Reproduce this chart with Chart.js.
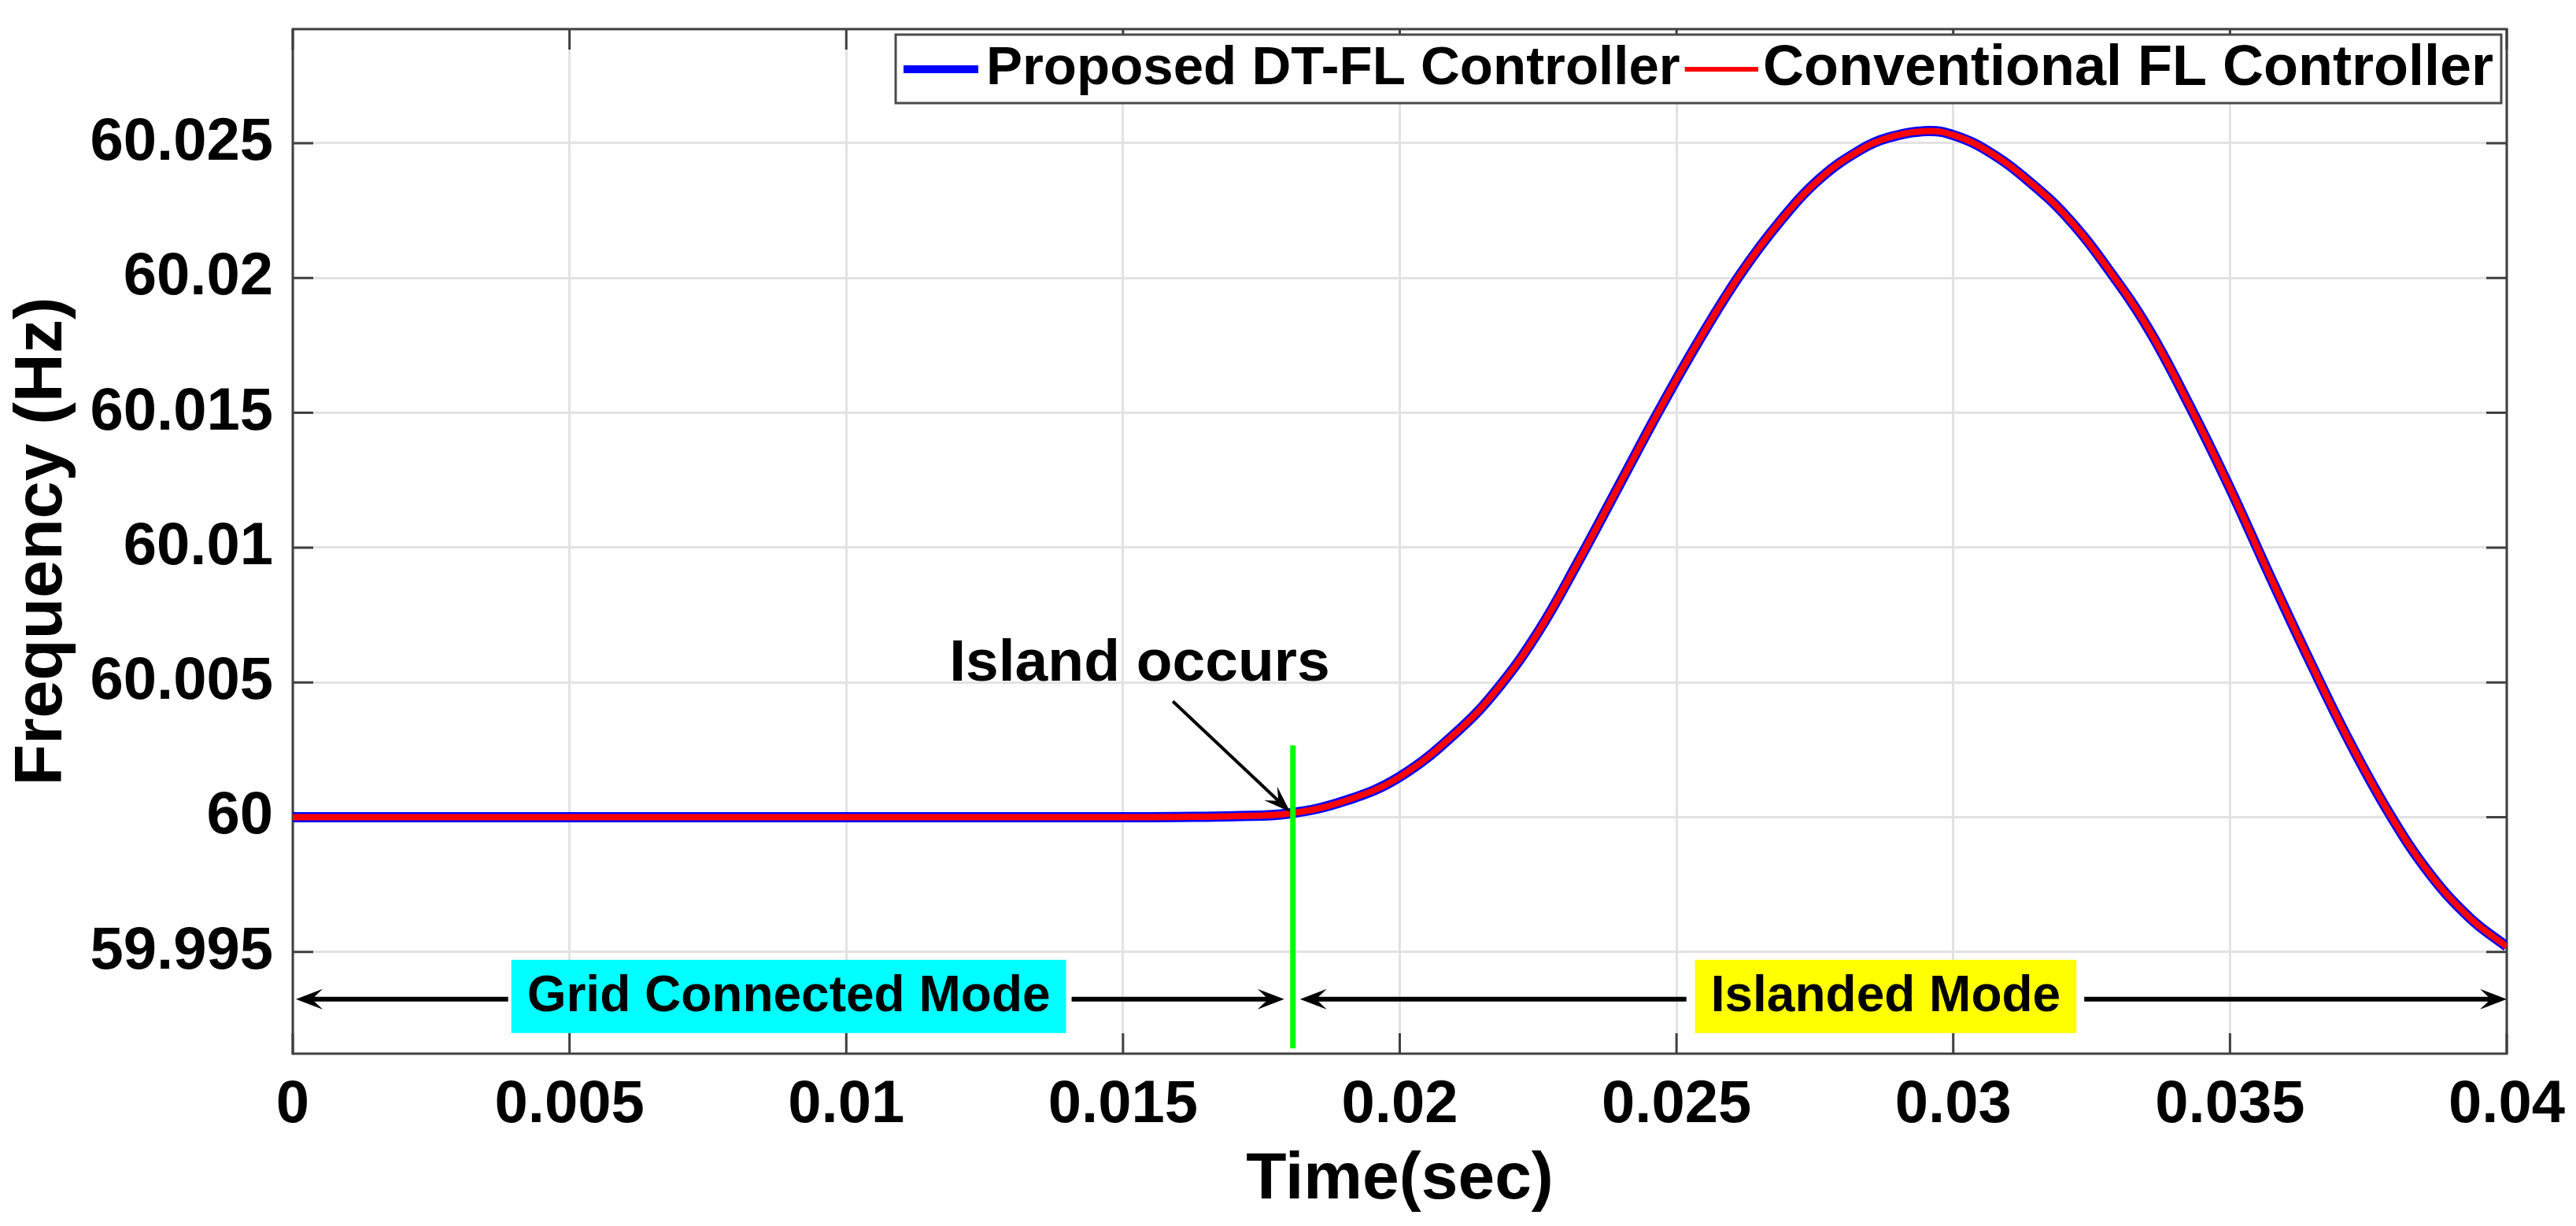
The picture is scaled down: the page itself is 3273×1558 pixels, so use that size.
<!DOCTYPE html>
<html>
<head>
<meta charset="utf-8">
<script src="https://cdn.jsdelivr.net/npm/chart.js@4.4.1/dist/chart.umd.min.js"></script>
<style>
  html, body { margin: 0; padding: 0; background: #fff; }
  canvas { display: block; }
</style>
</head>
<body>
<canvas id="freq" width="3273" height="1558"></canvas>
<script>
// values
const timeSec = [0, 0.005, 0.01, 0.015, 0.016, 0.017, 0.018, 0.019, 0.02, 0.02105, 0.02178, 0.02251,
    0.02323, 0.02396, 0.02469, 0.02541, 0.02614, 0.02687, 0.0276, 0.02832, 0.02882, 0.02954, 0.03,
    0.03063, 0.03136, 0.03208, 0.03281, 0.03353, 0.03426, 0.035, 0.03571, 0.03644, 0.03716, 0.03789,
    0.03861, 0.03934, 0.04];
const freqProposed = [60, 60, 60, 60, 60.00001, 60.00004, 60.00014, 60.0006, 60.0015, 60.0032, 60.0048, 60.0069,
    60.0095, 60.0123, 60.0151, 60.0177, 60.0201, 60.0221, 60.0237, 60.02475, 60.0252, 60.02545, 60.0253,
    60.0247, 60.0236, 60.0222, 60.0203, 60.0181, 60.0153, 60.0122, 60.009, 60.0058, 60.0028, 60.0001,
    59.9979, 59.99625, 59.9952];
const freqConventional = [60, 60, 60, 60, 60.00001, 60.00004, 60.00014, 60.0006, 60.0015, 60.0032, 60.0048, 60.0069,
    60.0095, 60.0123, 60.0151, 60.0177, 60.0201, 60.0221, 60.0237, 60.02475, 60.0252, 60.02545, 60.0253,
    60.0247, 60.0236, 60.0222, 60.0203, 60.0181, 60.0153, 60.0122, 60.009, 60.0058, 60.0028, 60.0001,
    59.9979, 59.99625, 59.9952];
const seriesNames = ['Proposed DT-FL Controller', 'Conventional FL Controller'];

const xTicks = [0, 0.005, 0.01, 0.015, 0.02, 0.025, 0.03, 0.035, 0.04];
const xTickLabels = ['0', '0.005', '0.01', '0.015', '0.02', '0.025', '0.03', '0.035', '0.04'];
const yTicks = [59.995, 60, 60.005, 60.01, 60.015, 60.02, 60.025];
const yTickLabels = ['59.995', '60', '60.005', '60.01', '60.015', '60.02', '60.025'];

// annotations (data units)
const islandTime = 0.01807;
const islandLine = [60.00266, 59.99143];
const islandText = 'Island occurs';
const islandTextAt = [0.0153, 60.00505];
const islandArrow = [[0.0159, 60.0043], [0.01802, 60.0002]];
const modeNames = ['Grid Connected Mode', 'Islanded Mode'];
const modeCenters = [0.00896, 0.02878];
const modeFreq = 59.99325;

const FONT = "'Liberation Sans', Arial, Helvetica, sans-serif";

function arrow(ctx, x1, y1, x2, y2, width, L, W) {
    const a = Math.atan2(y2 - y1, x2 - x1);
    ctx.save();
    ctx.strokeStyle = '#000';
    ctx.fillStyle = '#000';
    ctx.lineWidth = width;
    ctx.beginPath();
    ctx.moveTo(x1, y1);
    ctx.lineTo(x2 - Math.cos(a) * L * 0.6, y2 - Math.sin(a) * L * 0.6);
    ctx.stroke();
    ctx.translate(x2, y2);
    ctx.rotate(a);
    ctx.beginPath();
    ctx.moveTo(0, 0);
    ctx.lineTo(-L, W);
    ctx.lineTo(-L * 0.6, 0);
    ctx.lineTo(-L, -W);
    ctx.closePath();
    ctx.fill();
    ctx.restore();
}

// MATLAB-like box with inward ticks
const axesBox = {
    id: 'axesBox',
    beforeDatasetsDraw(chart) {
        const { ctx, chartArea: { left, top, right, bottom }, scales: { x, y } } = chart;
        const tl = 26;
        ctx.save();
        ctx.strokeStyle = '#404040';
        ctx.lineWidth = 3;
        ctx.beginPath();
        xTicks.forEach(v => {
            const px = x.getPixelForValue(v);
            ctx.moveTo(px, bottom); ctx.lineTo(px, bottom - tl);
            ctx.moveTo(px, top); ctx.lineTo(px, top + tl);
        });
        yTicks.forEach(v => {
            const py = y.getPixelForValue(v);
            ctx.moveTo(left, py); ctx.lineTo(left + tl, py);
            ctx.moveTo(right, py); ctx.lineTo(right - tl, py);
        });
        ctx.stroke();
        ctx.strokeRect(left, top, right - left, bottom - top);
        ctx.restore();
    }
};

const annotations = {
    id: 'annotations',
    afterDatasetsDraw(chart) {
        const { ctx, scales: { x, y } } = chart;
        ctx.save();

        // Island occurs
        ctx.font = `bold 75px ${FONT}`;
        ctx.fillStyle = '#000';
        ctx.textAlign = 'center';
        ctx.textBaseline = 'alphabetic';
        ctx.fillText(islandText, x.getPixelForValue(islandTextAt[0]), y.getPixelForValue(islandTextAt[1]));
        arrow(ctx,
            x.getPixelForValue(islandArrow[0][0]), y.getPixelForValue(islandArrow[0][1]),
            x.getPixelForValue(islandArrow[1][0]), y.getPixelForValue(islandArrow[1][1]),
            4, 34, 12);

        // mode labels
        const ym = y.getPixelForValue(modeFreq);
        const xi = x.getPixelForValue(islandTime);
        ctx.font = `bold 64px ${FONT}`;
        ctx.textBaseline = 'middle';
        const boxes = modeNames.map((name, i) => {
            const w = ctx.measureText(name).width + 40;
            const cx = x.getPixelForValue(modeCenters[i]);
            return { l: cx - w / 2, r: cx + w / 2, cx, name };
        });
        const fills = ['#00ffff', '#ffff00'];
        boxes.forEach((b, i) => {
            ctx.fillStyle = fills[i];
            ctx.fillRect(b.l, ym - 50, b.r - b.l, 93);
            ctx.fillStyle = '#000';
            ctx.fillText(b.name, b.cx, ym - 2);
        });
        arrow(ctx, boxes[0].l - 4, ym, x.getPixelForValue(0) + 4, ym, 6, 34, 13);
        arrow(ctx, boxes[0].r + 7, ym, xi - 11, ym, 6, 34, 13);
        arrow(ctx, boxes[1].l - 11, ym, xi + 9, ym, 6, 34, 13);
        arrow(ctx, boxes[1].r + 10, ym, x.getPixelForValue(0.04), ym, 6, 34, 13);
        ctx.restore();
    }
};

const boxLegend = {
    id: 'boxLegend',
    afterDraw(chart) {
        const { ctx } = chart;
        const l = 1138, r = 3178, t = 44, b = 131, cy = 88;
        ctx.save();
        ctx.fillStyle = '#fff';
        ctx.fillRect(l, t, r - l, b - t);
        ctx.strokeStyle = '#4a4a4a';
        ctx.lineWidth = 3;
        ctx.strokeRect(l, t, r - l, b - t);
        ctx.textBaseline = 'middle';
        ctx.fillStyle = '#000';
        // first entry
        ctx.strokeStyle = '#0000ff';
        ctx.lineWidth = 10;
        ctx.beginPath(); ctx.moveTo(1148, cy); ctx.lineTo(1243, cy); ctx.stroke();
        ctx.font = `bold 69px ${FONT}`;
        ctx.textAlign = 'left';
        ctx.fillText(seriesNames[0], 1253, cy);
        const end1 = 1253 + ctx.measureText(seriesNames[0]).width;
        // second entry
        ctx.font = `bold 72px ${FONT}`;
        ctx.textAlign = 'right';
        ctx.fillText(seriesNames[1], 3168, cy);
        const start2 = 3168 - ctx.measureText(seriesNames[1]).width;
        ctx.strokeStyle = '#ff0000';
        ctx.lineWidth = 6;
        ctx.beginPath(); ctx.moveTo(end1 + 6, cy); ctx.lineTo(start2 - 6, cy); ctx.stroke();
        ctx.restore();
    }
};

new Chart(document.getElementById('freq'), {
    type: 'line',
    plugins: [axesBox, annotations, boxLegend],
    data: {
        datasets: [
            {
                label: 'island',
                data: islandLine.map(v => ({ x: islandTime, y: v })),
                borderColor: '#00ff00',
                borderWidth: 7,
                pointRadius: 0,
                order: 0
            },
            {
                label: seriesNames[1],
                data: timeSec.map((t, i) => ({ x: t, y: freqConventional[i] })),
                borderColor: '#ff0000',
                borderWidth: 8,
                pointRadius: 0,
                tension: 0.4,
                order: 1
            },
            {
                label: seriesNames[0],
                data: timeSec.map((t, i) => ({ x: t, y: freqProposed[i] })),
                borderColor: '#0000ff',
                borderWidth: 13,
                pointRadius: 0,
                tension: 0.4,
                order: 2
            }
        ]
    },
    options: {
        responsive: false,
        devicePixelRatio: 1,
        animation: false,
        layout: { padding: { top: 37, right: 88, left: 0, bottom: 0 } },
        plugins: {
            legend: { display: false },
            tooltip: { enabled: false }
        },
        scales: {
            x: {
                type: 'linear',
                min: 0,
                max: 0.04,
                afterBuildTicks: axis => { axis.ticks = xTicks.map(v => ({ value: v })); },
                afterFit: s => { s.height = 219; s.paddingLeft = 0; s.paddingRight = 0; },
                grid: { color: '#e2e2e2', lineWidth: 3, drawTicks: false },
                border: { display: false },
                ticks: {
                    autoSkip: false,
                    maxRotation: 0,
                    padding: 20,
                    color: '#000',
                    font: { family: FONT, size: 76, weight: 'bold' },
                    callback: (v, i) => xTickLabels[i]
                },
                title: {
                    display: true,
                    text: 'Time(sec)',
                    color: '#000',
                    padding: { top: 0, bottom: 8 },
                    font: { family: FONT, size: 84, weight: 'bold' }
                }
            },
            y: {
                min: 59.99123,
                max: 60.02923,
                afterBuildTicks: axis => { axis.ticks = yTicks.map(v => ({ value: v })); },
                afterFit: s => { s.width = 372; s.paddingTop = 0; s.paddingBottom = 0; },
                grid: { color: '#e2e2e2', lineWidth: 3, drawTicks: false },
                border: { display: false },
                ticks: {
                    padding: 25,
                    color: '#000',
                    font: { family: FONT, size: 76, weight: 'bold' },
                    callback: (v, i) => yTickLabels[i]
                },
                title: {
                    display: true,
                    text: 'Frequency (Hz)',
                    color: '#000',
                    padding: { top: 3, bottom: 0 },
                    font: { family: FONT, size: 86, weight: 'bold' }
                }
            }
        }
    }
});
</script>
</body>
</html>
